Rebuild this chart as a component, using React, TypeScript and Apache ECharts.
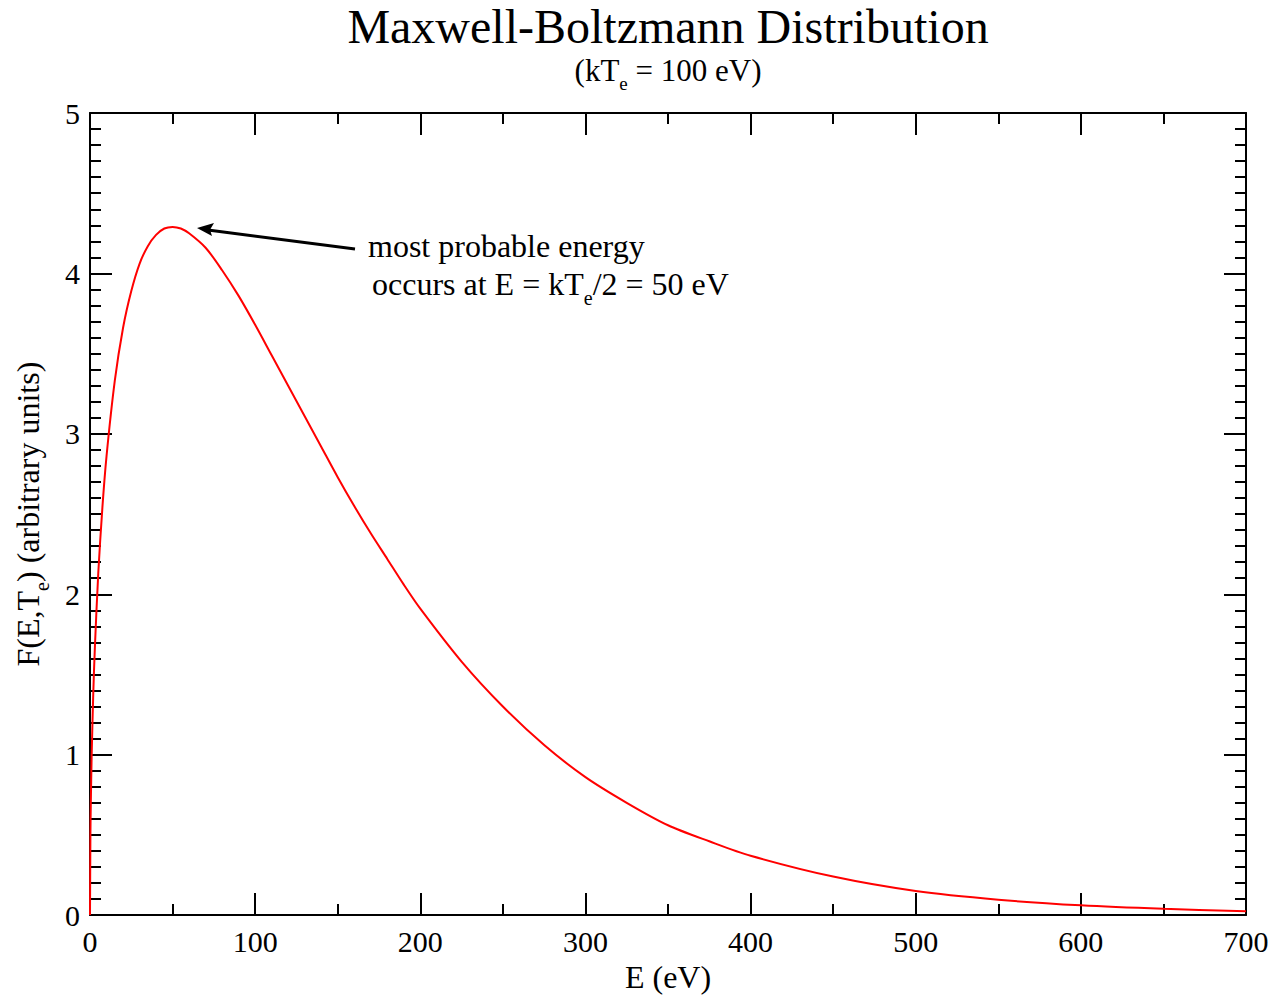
import React, { useEffect, useRef } from "react";
import * as echarts from "echarts";

// Energy values (eV)
const energy = [0, 0.25, 0.5, 1, 2, 3, 5, 7.5, 10, 15, 20, 25, 30, 35, 40, 45, 50, 55, 60, 70, 80, 90, 100, 110, 120, 130, 140, 150, 160, 170, 180, 190, 200, 225, 250, 275, 300, 325, 350, 375, 400, 450, 500, 550, 600, 650, 700];
// F(E, Te) readings (arbitrary units)
const fValues = [0, 0.50, 0.70, 0.99, 1.39, 1.68, 2.13, 2.54, 2.86, 3.33, 3.66, 3.89, 4.06, 4.17, 4.24, 4.28, 4.29, 4.28, 4.25, 4.16, 4.02, 3.86, 3.68, 3.49, 3.30, 3.11, 2.92, 2.73, 2.55, 2.38, 2.22, 2.06, 1.91, 1.58, 1.30, 1.06, 0.86, 0.70, 0.56, 0.46, 0.37, 0.24, 0.15, 0.096, 0.061, 0.039, 0.024];

const xTicks = { min: 0, max: 700, interval: 100 };
const yTicks = { min: 0, max: 5, interval: 1 };

const titleText = "Maxwell-Boltzmann Distribution";
const subtitleText = "{a|(kT}{s|e}{a| = 100 eV)}";
const xName = "E (eV)";
const yName = "{a|F(E,T}{s|e}{a|) (arbitrary units)}";
const note1 = "most probable energy";
const note2 = "{a|occurs at E = kT}{s|e}{a|/2 = 50 eV}";

const FONT = "'Liberation Serif', 'Times New Roman', serif";

export default function App() {
  const ref = useRef<HTMLDivElement>(null);
  useEffect(() => {
    document.body.style.margin = "0";
    if (!ref.current) return;
    const chart = echarts.init(ref.current, undefined, { renderer: "svg" });
    const axisCommon = {
      axisLine: { show: true, onZero: false, lineStyle: { color: "#000", width: 2 } },
      axisTick: { show: true, inside: true, length: 22, lineStyle: { color: "#000", width: 2 } },
      splitLine: { show: false },
    };
    const richMain = (size: number) => ({
      a: { fontFamily: FONT, fontSize: size, color: "#000", lineHeight: size, verticalAlign: "top" },
      s: {
        fontFamily: FONT,
        fontSize: Math.round(size * 0.62),
        color: "#000",
        lineHeight: Math.round(size * 0.62),
        verticalAlign: "top",
        padding: [Math.round(size * 0.62), 0, 0, 0],
      },
    });
    const data = energy.map((e, i) => [e, fValues[i]]);
    chart.setOption({
      animation: false,
      backgroundColor: "#fff",
      grid: { left: 90, right: 28, top: 113, bottom: 76, containLabel: false },
      xAxis: [
        {
          type: "value",
          position: "bottom",
          ...xTicks,
          ...axisCommon,
          minorTick: { show: true, splitNumber: 2, length: 11, lineStyle: { color: "#000", width: 2 } },
          axisLabel: { fontFamily: FONT, fontSize: 30, color: "#000", margin: 11 },
          name: xName,
          nameLocation: "middle",
          nameGap: 44,
          nameTextStyle: { fontFamily: FONT, fontSize: 32, color: "#000" },
        },
        {
          type: "value",
          position: "top",
          ...xTicks,
          ...axisCommon,
          minorTick: { show: true, splitNumber: 2, length: 11, lineStyle: { color: "#000", width: 2 } },
          axisLabel: { show: false },
        },
      ],
      yAxis: [
        {
          type: "value",
          position: "left",
          ...yTicks,
          ...axisCommon,
          minorTick: { show: true, splitNumber: 10, length: 11, lineStyle: { color: "#000", width: 2 } },
          axisLabel: { fontFamily: FONT, fontSize: 30, color: "#000", margin: 10 },
          name: yName,
          nameLocation: "middle",
          nameGap: 46,
          nameRotate: 90,
          nameTextStyle: { rich: richMain(32) },
        },
        {
          type: "value",
          position: "right",
          ...yTicks,
          ...axisCommon,
          minorTick: { show: true, splitNumber: 10, length: 11, lineStyle: { color: "#000", width: 2 } },
          axisLabel: { show: false },
        },
      ],
      series: [
        {
          type: "line",
          xAxisIndex: 0,
          yAxisIndex: 0,
          data,
          smooth: 0.3,
          showSymbol: false,
          lineStyle: { color: "#ff0000", width: 2 },
        },
      ],
      graphic: [
        {
          type: "text",
          x: 668,
          y: 26.5,
          style: { text: titleText, fontFamily: FONT, fontSize: 48, lineHeight: 44, fill: "#000", align: "center", verticalAlign: "middle" },
        },
        {
          type: "text",
          x: 668,
          y: 55,
          style: { text: subtitleText, rich: richMain(31), align: "center", verticalAlign: "top" },
        },
        {
          type: "text",
          x: 368,
          y: 246,
          style: { text: note1, fontFamily: FONT, fontSize: 32, fill: "#000", align: "left", verticalAlign: "middle" },
        },
        {
          type: "text",
          x: 372,
          y: 268,
          style: { text: note2, rich: richMain(32), align: "left", verticalAlign: "top" },
        },
        {
          type: "line",
          shape: { x1: 355, y1: 249, x2: 208, y2: 230 },
          style: { stroke: "#000", lineWidth: 3 },
        },
        {
          type: "polygon",
          shape: { points: [[197, 228], [214, 223], [210, 229.8], [212, 236]] },
          style: { fill: "#000" },
        },
      ],
    });
    return () => chart.dispose();
  }, []);
  return <div ref={ref} style={{ width: 1274, height: 998 }} />;
}
